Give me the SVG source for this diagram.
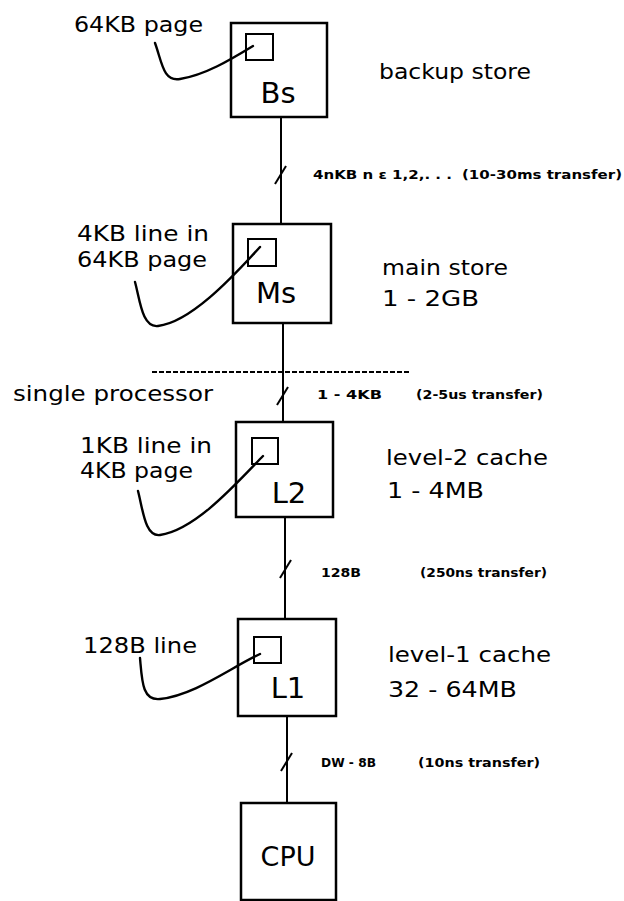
<svg xmlns="http://www.w3.org/2000/svg" width="624" height="901" viewBox="0 0 624 901">
<style>
.box{fill:none;stroke:#000;stroke-width:2.5}
.sq{fill:none;stroke:#000;stroke-width:2}
.ln{fill:none;stroke:#000;stroke-width:2}
.lead{fill:none;stroke:#000;stroke-width:2.4;stroke-linecap:round}
.big{font-family:"DejaVu Sans","Liberation Sans",sans-serif;font-size:22px;fill:#000}
.nm{font-family:"DejaVu Sans","Liberation Sans",sans-serif;font-size:29px;fill:#000;text-anchor:middle}
.sm{font-family:"DejaVu Sans","Liberation Sans",sans-serif;font-size:13px;font-weight:bold;fill:#000}
</style>
<rect width="624" height="901" fill="#fff"/>
<g id="connectors">
<line class="ln" x1="281" y1="117" x2="281" y2="224"/>
<line class="ln" x1="283" y1="323" x2="283" y2="422"/>
<line class="ln" x1="285" y1="517" x2="285" y2="619"/>
<line class="ln" x1="287" y1="716" x2="287" y2="803"/>
<line class="ln" x1="275" y1="184" x2="286" y2="166"/>
<line class="ln" x1="277" y1="405" x2="288" y2="387"/>
<line class="ln" x1="280" y1="578" x2="291" y2="560"/>
<line class="ln" x1="281" y1="771" x2="292" y2="753"/>
<line class="ln" x1="152" y1="372" x2="409" y2="372" stroke-dasharray="5 2"/>
<text class="sm" x="313" y="179" textLength="139" lengthAdjust="spacingAndGlyphs">4nKB n ε 1,2,. . .</text>
<text class="sm" x="462" y="179" textLength="160" lengthAdjust="spacingAndGlyphs">(10-30ms transfer)</text>
<text class="sm" x="317" y="399" textLength="65" lengthAdjust="spacingAndGlyphs">1 - 4KB</text>
<text class="sm" x="416" y="399" textLength="127" lengthAdjust="spacingAndGlyphs">(2-5us transfer)</text>
<text class="sm" x="321" y="577" textLength="40" lengthAdjust="spacingAndGlyphs">128B</text>
<text class="sm" x="420" y="577" textLength="127" lengthAdjust="spacingAndGlyphs">(250ns transfer)</text>
<text class="sm" x="321" y="767" textLength="55" lengthAdjust="spacingAndGlyphs">DW - 8B</text>
<text class="sm" x="418" y="767" textLength="122" lengthAdjust="spacingAndGlyphs">(10ns transfer)</text>
<text class="big" x="13" y="401" textLength="200" lengthAdjust="spacingAndGlyphs">single processor</text>
</g>
<g id="bs">
<rect class="box" x="231" y="23" width="96" height="94"/>
<rect class="sq" x="246" y="34" width="27" height="26"/>
<text class="nm" x="278" y="103">Bs</text>
<path class="lead" d="M155,43 C162,62 163,82 180,79 C205,75 230,60 253,46"/>
<text class="big" x="74" y="32" textLength="129" lengthAdjust="spacingAndGlyphs">64KB page</text>
<text class="big" x="379" y="79" textLength="152" lengthAdjust="spacingAndGlyphs">backup store</text>
</g>
<g id="ms">
<rect class="box" x="233" y="224" width="98" height="99"/>
<rect class="sq" x="248" y="239" width="28" height="27"/>
<text class="nm" x="276" y="303">Ms</text>
<path class="lead" d="M135,282 C140,300 142,328 158,326 C190,322 230,280 260,247"/>
<text class="big" x="77" y="241" textLength="132" lengthAdjust="spacingAndGlyphs">4KB line in</text>
<text class="big" x="77" y="267" textLength="130" lengthAdjust="spacingAndGlyphs">64KB page</text>
<text class="big" x="382" y="275" textLength="126" lengthAdjust="spacingAndGlyphs">main store</text>
<text class="big" x="382" y="306" textLength="97" lengthAdjust="spacingAndGlyphs">1 - 2GB</text>
</g>
<g id="l2">
<rect class="box" x="236" y="422" width="97" height="95"/>
<rect class="sq" x="252" y="438" width="26" height="26"/>
<text class="nm" x="289" y="503">L2</text>
<path class="lead" d="M138,491 C143,510 145,537 160,535 C195,530 235,485 263,456"/>
<text class="big" x="80" y="453" textLength="132" lengthAdjust="spacingAndGlyphs">1KB line in</text>
<text class="big" x="80" y="478" textLength="113" lengthAdjust="spacingAndGlyphs">4KB page</text>
<text class="big" x="386" y="465" textLength="162" lengthAdjust="spacingAndGlyphs">level-2 cache</text>
<text class="big" x="387" y="498" textLength="97" lengthAdjust="spacingAndGlyphs">1 - 4MB</text>
</g>
<g id="l1">
<rect class="box" x="238" y="619" width="98" height="97"/>
<rect class="sq" x="254" y="637" width="27" height="26"/>
<text class="nm" x="288" y="698">L1</text>
<path class="lead" d="M140,658 C142,680 142,701 160,699 C195,695 230,668 260,654"/>
<text class="big" x="83" y="653" textLength="114" lengthAdjust="spacingAndGlyphs">128B line</text>
<text class="big" x="388" y="662" textLength="163" lengthAdjust="spacingAndGlyphs">level-1 cache</text>
<text class="big" x="388" y="697" textLength="129" lengthAdjust="spacingAndGlyphs">32 - 64MB</text>
</g>
<g id="cpu">
<rect class="box" x="241" y="803" width="95" height="97"/>
<text class="nm" x="288" y="866" style="font-size:27px">CPU</text>
</g>
</svg>
